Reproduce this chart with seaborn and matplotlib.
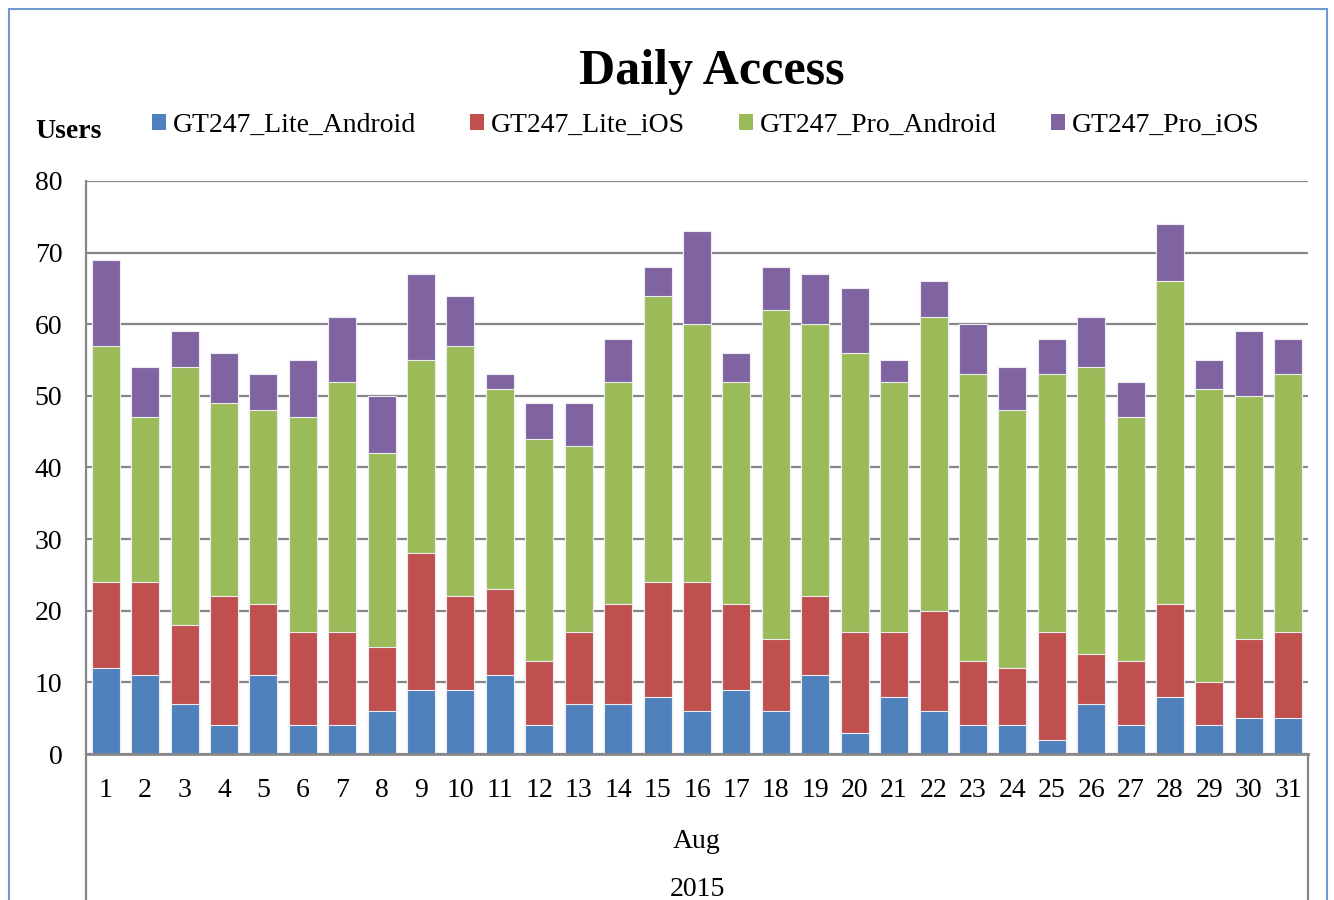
"""Daily Access stacked bar chart, Aug 2015."""
import matplotlib

matplotlib.use("Agg")
import matplotlib.pyplot as plt
import numpy as np
import seaborn as sns
from matplotlib.lines import Line2D
from matplotlib.patches import Patch, Rectangle

DAYS = [str(d) for d in range(1, 32)]
LITE_ANDROID = [12, 11, 7, 4, 11, 4, 4, 6, 9, 9, 11, 4, 7, 7, 8, 6,
                9, 6, 11, 3, 8, 6, 4, 4, 2, 7, 4, 8, 4, 5, 5]
LITE_IOS = [12, 13, 11, 18, 10, 13, 13, 9, 19, 13, 12, 9, 10, 14, 16, 18,
            12, 10, 11, 14, 9, 14, 9, 8, 15, 7, 9, 13, 6, 11, 12]
PRO_ANDROID = [33, 23, 36, 27, 27, 30, 35, 27, 27, 35, 28, 31, 26, 31, 40, 36,
               31, 46, 38, 39, 35, 41, 40, 36, 36, 40, 34, 45, 41, 34, 36]
PRO_IOS = [12, 7, 5, 7, 5, 8, 9, 8, 12, 7, 2, 5, 6, 6, 4, 13,
           4, 6, 7, 9, 3, 5, 7, 6, 5, 7, 5, 8, 4, 9, 5]
SERIES = ["GT247_Lite_Android", "GT247_Lite_iOS", "GT247_Pro_Android", "GT247_Pro_iOS"]
Y_TICKS = [0, 10, 20, 30, 40, 50, 60, 70, 80]

COLORS = ["#4F81BD", "#C0504D", "#9BBB59", "#8064A2"]
GRID = "#878787"
FONT = ["Liberation Serif", "DejaVu Serif"]
W, H = 1334, 900

sns.set_style("white")
plt.rcParams["font.family"] = FONT
plt.rcParams.update({"text.color": "black", "xtick.color": "black", "ytick.color": "black"})

fig = plt.figure(figsize=(W / 100, H / 100), dpi=100)
ax = fig.add_axes([86 / W, 1 - 754 / H, (1308 - 86) / W, (754 - 181) / H])

# seaborn has no stacking, so draw cumulative totals from the top series down
stack = np.cumsum(np.array([LITE_ANDROID, LITE_IOS, PRO_ANDROID, PRO_IOS]), axis=0)
for i in range(len(SERIES) - 1, -1, -1):
    sns.barplot(x=DAYS, y=stack[i], color=COLORS[i], saturation=1, width=0.71,
                edgecolor="#ececf2", linewidth=0.8, ax=ax)

ax.set_xlim(-0.5, len(DAYS) - 0.5)
ax.set_ylim(0, 80)
ax.set_yticks(Y_TICKS)
ax.set_axisbelow(True)
ax.yaxis.grid(True, color=GRID, lw=1.6)
for s in ("top", "right"):
    ax.spines[s].set_visible(False)
ax.spines["left"].set_color(GRID)
ax.spines["left"].set_linewidth(1.6)
ax.spines["bottom"].set_color(GRID)
ax.spines["bottom"].set_linewidth(2)
ax.tick_params(axis="y", length=0, pad=17, labelsize=20, labelcolor="black")
ax.tick_params(axis="x", length=0, pad=17, labelsize=20, labelcolor="black")
ax.set_xlabel("")
ax.set_ylabel("")

# multi-level category axis below the plot
for x in (86, 1308):
    fig.add_artist(Line2D([x / W, x / W], [1 - 754 / H, 0], color=GRID, lw=1.6))
fig.text(697 / W, 1 - 841 / H, "Aug", ha="center", va="center", fontsize=20)
fig.text(697 / W, 1 - 890 / H, "2015", ha="center", va="center", fontsize=20)

fig.text(712 / W, 1 - 72 / H, "Daily Access", ha="center", va="center",
         fontsize=36, fontweight="bold")
fig.text(35 / W, 1 - 131 / H, "Users", ha="left", va="center",
         fontsize=20, fontweight="bold")

handles = [Patch(facecolor=c, edgecolor="none") for c in COLORS]
fig.legend(handles, SERIES, loc="center", bbox_to_anchor=(706 / W, 1 - 125 / H),
           ncol=4, frameon=False, fontsize=20, handlelength=0.5, handleheight=0.5,
           handletextpad=0.25, columnspacing=1.95, borderaxespad=0)

# chart area border
fig.add_artist(Rectangle((9 / W, -0.02), (1327 - 9) / W, 1.02 - 9 / H,
                         fill=False, edgecolor="#7099d0", lw=1.5))

fig.savefig("out.png", dpi=100)
